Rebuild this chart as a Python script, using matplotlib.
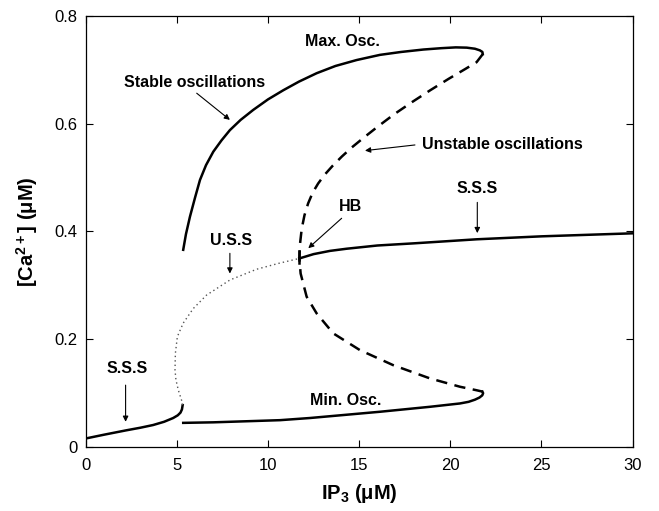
import matplotlib
matplotlib.use("Agg")
import matplotlib.pyplot as plt

plt.rcParams['font.family'] = ['Liberation Sans', 'DejaVu Sans']
plt.rcParams['mathtext.fontset'] = 'custom'
plt.rcParams['mathtext.rm'] = 'Liberation Sans:bold'
plt.rcParams['mathtext.bf'] = 'Liberation Sans:bold'

# lower stable steady state
sss_low_x = [0.0, 1.0, 2.2, 3.0, 3.7, 4.3, 4.8, 5.05, 5.2, 5.28, 5.32]
sss_low_y = [0.016, 0.023, 0.031, 0.036, 0.041, 0.047, 0.054, 0.059, 0.064, 0.070, 0.078]

# unstable steady state (dotted)
uss_x = [5.32, 5.26, 5.08, 4.95, 4.90, 4.92, 5.03, 5.35, 5.90, 6.63, 7.91, 9.38, 10.6, 11.72]
uss_y = [0.078, 0.087, 0.106, 0.125, 0.143, 0.174, 0.205, 0.230, 0.257, 0.282, 0.310, 0.330, 0.341, 0.350]

# upper stable steady state
sss_up_x = [11.72, 12.5, 13.4, 14.31, 16.0, 18.0, 21.44, 25.0, 30.0]
sss_up_y = [0.350, 0.358, 0.364, 0.368, 0.374, 0.378, 0.3855, 0.391, 0.3966]

# stable oscillations, max and min
max_x = [5.35, 5.5, 5.72, 6.0, 6.27, 6.6, 7.0, 7.45, 7.91, 8.5, 9.19, 10.0, 10.84, 11.7, 12.67,
         13.7, 14.86, 16.14, 17.3, 18.52, 19.5, 20.3, 20.9, 21.35, 21.62, 21.76, 21.78]
max_y = [0.366, 0.395, 0.4275, 0.463, 0.4956, 0.523, 0.548, 0.569, 0.588, 0.607, 0.6255, 0.645,
         0.662, 0.678, 0.6936, 0.707, 0.718, 0.7276, 0.733, 0.7375, 0.740, 0.7415, 0.741, 0.739,
         0.736, 0.733, 0.729]
min_x = [5.35, 7.0, 10.66, 12.3, 16.14, 18.88, 20.53, 21.0, 21.35, 21.6, 21.75, 21.8, 21.76]
min_y = [0.045, 0.046, 0.050, 0.054, 0.0656, 0.0748, 0.081, 0.084, 0.088, 0.092, 0.096, 0.100, 0.103]

# unstable oscillations (dashed), from upper turning point through HB to lower turning point
uo_x = [21.78, 21.44, 20.8, 19.9, 18.9, 17.9, 16.9, 16.0, 15.25, 14.6, 14.05, 13.55, 13.1,
        12.75, 12.45, 12.2, 12.0, 11.85, 11.76, 11.72,
        11.79, 12.12, 12.67, 13.58, 15.04, 16.87, 18.88, 20.53, 21.44, 21.76]
uo_y = [0.729, 0.714, 0.701, 0.683, 0.662, 0.640, 0.617, 0.594, 0.574, 0.556, 0.539, 0.522, 0.505,
        0.489, 0.472, 0.452, 0.430, 0.405, 0.378, 0.350,
        0.322, 0.279, 0.248, 0.211, 0.180, 0.152, 0.1275, 0.112, 0.1055, 0.103]

fig = plt.figure(figsize=(6.59, 5.11), dpi=100)
ax = fig.add_axes([0.130, 0.125, 0.830, 0.844])

ax.plot(sss_low_x, sss_low_y, color='black', lw=1.8)
ax.plot(uss_x, uss_y, color='#555555', lw=1.0, ls=(0, (1, 2.2)))
ax.plot(sss_up_x, sss_up_y, color='black', lw=1.8)
ax.plot(max_x, max_y, color='black', lw=1.8)
ax.plot(min_x, min_y, color='black', lw=1.8)
ax.plot(uo_x, uo_y, color='black', lw=1.8, ls=(0, (4.5, 3)))
ax.plot([11.72, 11.72], [0.341, 0.363], color='black', lw=1.8)

fs = 11.5
bold = dict(fontsize=fs, fontweight='bold', ha='center', va='center')
arrow = dict(arrowstyle='-|>', color='black', lw=0.8, mutation_scale=8, shrinkA=0, shrinkB=0)

ax.text(14.1, 0.752, 'Max. Osc.', **bold)
ax.text(14.28, 0.087, 'Min. Osc.', **bold)
ax.annotate('', xy=(7.91, 0.607), xytext=(6.09, 0.6565), arrowprops=arrow)
ax.text(5.95, 0.676, 'Stable oscillations', **bold)
ax.annotate('', xy=(15.32, 0.550), xytext=(18.06, 0.5605), arrowprops=arrow)
ax.text(18.43, 0.5605, 'Unstable oscillations', fontsize=fs, fontweight='bold', ha='left', va='center')
ax.annotate('', xy=(21.48, 0.397), xytext=(21.48, 0.454), arrowprops=arrow)
ax.text(21.48, 0.480, 'S.S.S', **bold)
ax.annotate('', xy=(12.21, 0.369), xytext=(14.04, 0.4245), arrowprops=arrow)
ax.text(14.5, 0.446, 'HB', **bold)
ax.annotate('', xy=(7.91, 0.322), xytext=(7.91, 0.3595), arrowprops=arrow)
ax.text(8.0, 0.384, 'U.S.S', **bold)
ax.annotate('', xy=(2.19, 0.047), xytext=(2.19, 0.115), arrowprops=arrow)
ax.text(2.25, 0.146, 'S.S.S', **bold)

ax.set_xlim(0, 30)
ax.set_ylim(0, 0.8)
ax.set_xticks([0, 5, 10, 15, 20, 25, 30])
ax.set_yticks([0, 0.2, 0.4, 0.6, 0.8])
ax.set_yticklabels(['0', '0.2', '0.4', '0.6', '0.8'])
ax.tick_params(direction='in', top=True, right=True, labelsize=12, length=5, width=0.8)
ax.tick_params(axis='x', pad=8)
ax.tick_params(axis='y', pad=6)
for s in ax.spines.values():
    s.set_linewidth(0.9)

ax.set_xlabel(r'IP$_\mathbf{3}$ (μM)', fontsize=14.5, fontweight='bold', labelpad=6)
ax.set_ylabel(r'[Ca$^{\mathbf{2+}}$] (μM)', fontsize=14.5, fontweight='bold', labelpad=10)

fig.savefig('out.png', dpi=100)
